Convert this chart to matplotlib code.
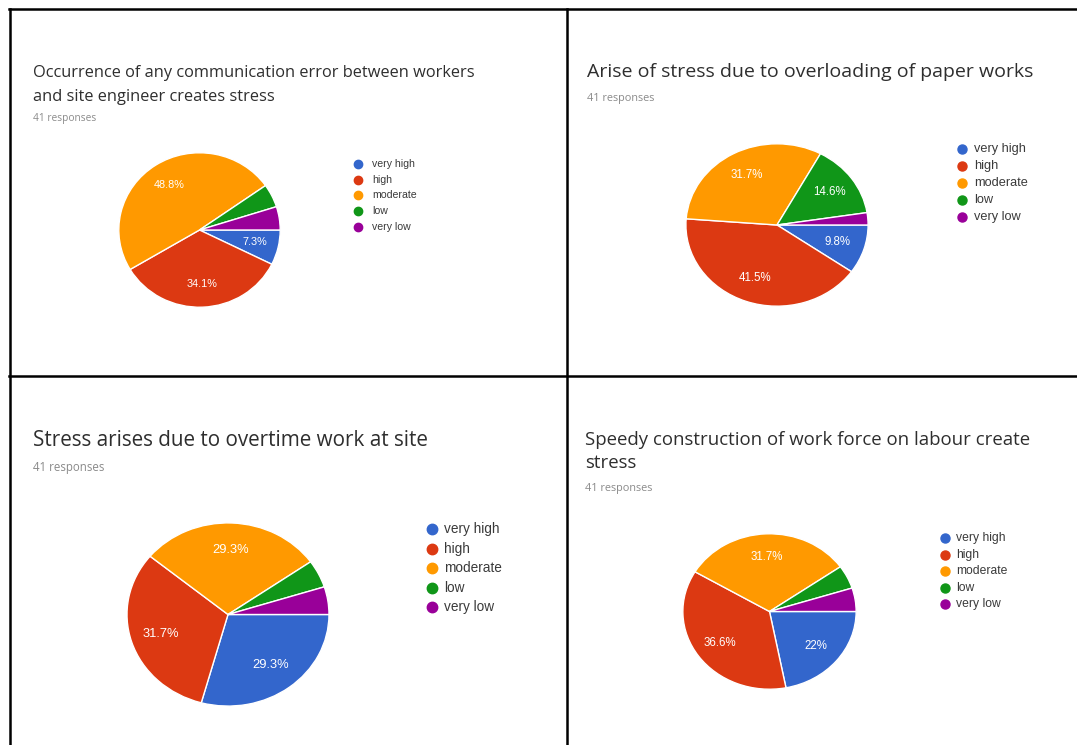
import matplotlib.pyplot as plt
from matplotlib.lines import Line2D

plt.rcParams['font.family'] = ['Open Sans', 'DejaVu Sans']

W, H = 1077, 745

levels = ['very high', 'high', 'moderate', 'low', 'very low']
colors = ['#3366cc', '#dc3912', '#ff9900', '#109618', '#990099']

titles = [
    ['Occurrence of any communication error between workers',
     'and site engineer creates stress'],
    ['Arise of stress due to overloading of paper works'],
    ['Stress arises due to overtime work at site'],
    ['Speedy construction of work force on labour create', 'stress'],
]
responses = 41

counts_comm = [3, 14, 20, 2, 2]
counts_paper = [4, 17, 13, 6, 1]
counts_overtime = [12, 13, 12, 2, 2]
counts_speedy = [9, 15, 13, 2, 2]
all_counts = [counts_comm, counts_paper, counts_overtime, counts_speedy]

# per panel: title/sub positions, pie box (l, t, r, b), legend geometry, font sizes
layout = [
    dict(tx=33, ty=[73, 97], tsize=11.8, ry=118, rsize=7.3,
         box=(118, 152, 281, 308), lx=358, ly=164, lstep=15.7, ldx=14,
         lsize=7.6, msize=6, psize=7.8),
    dict(tx=587, ty=[72], tsize=14.0, ry=98, rsize=7.8,
         box=(685, 143, 869, 307), lx=962, ly=149, lstep=17, ldx=12,
         lsize=9.2, msize=6.5, psize=8.3),
    dict(tx=33, ty=[440], tsize=14.9, ry=468, rsize=8.3,
         box=(126, 522, 330, 707), lx=432, ly=529, lstep=19.5, ldx=12,
         lsize=9.8, msize=7.5, psize=9.3),
    dict(tx=585, ty=[440, 463], tsize=13.4, ry=488, rsize=7.8,
         box=(682, 533, 857, 690), lx=945, ly=538, lstep=16.6, ldx=11,
         lsize=8.7, msize=6.5, psize=8.3),
]


def fx(x):
    return x / W


def fy(y):
    return 1 - y / H


def pct_label(p):
    if p < 5:
        return ''
    s = f'{p:.1f}'.rstrip('0').rstrip('.')
    return s + '%'


fig = plt.figure(figsize=(W / 100, H / 100), dpi=100)

# table grid
grid = dict(color='black', lw=1.8, transform=fig.transFigure)
fig.add_artist(Line2D([fx(9), fx(1077)], [fy(9), fy(9)], **grid))
fig.add_artist(Line2D([fx(9), fx(1077)], [fy(376), fy(376)], **grid))
fig.add_artist(Line2D([fx(10), fx(10)], [fy(9), fy(745)], **grid))
fig.add_artist(Line2D([fx(567), fx(567)], [fy(9), fy(745)], **grid))

for lines, counts, lay in zip(titles, all_counts, layout):
    for text, y in zip(lines, lay['ty']):
        fig.text(fx(lay['tx']), fy(y), text, fontsize=lay['tsize'],
                 color='#2e2e2e', va='center', ha='left')
    fig.text(fx(lay['tx']), fy(lay['ry']), f'{responses} responses',
             fontsize=lay['rsize'], color='#8a8a8a', va='center', ha='left')

    l, t, r, b = lay['box']
    ax = fig.add_axes([fx(l), fy(b), (r - l) / W, (b - t) / H])
    wedges, _, autotexts = ax.pie(counts, colors=colors, startangle=0,
                                  counterclock=False, autopct=pct_label,
                                  pctdistance=0.7,
                                  wedgeprops=dict(edgecolor='white', linewidth=1))
    for at in autotexts:
        at.set_color('white')
        at.set_fontsize(lay['psize'])
        at.set_family(['Liberation Sans', 'DejaVu Sans'])
    ax.set_aspect('auto')
    ax.set_xlim(-1.01, 1.01)
    ax.set_ylim(-1.01, 1.01)

    for i, (name, c) in enumerate(zip(levels, colors)):
        y = lay['ly'] + i * lay['lstep']
        fig.add_artist(Line2D([fx(lay['lx'])], [fy(y)], marker='o', color=c,
                              markersize=lay['msize'], linestyle='none',
                              transform=fig.transFigure))
        fig.text(fx(lay['lx'] + lay['ldx']), fy(y), name,
                 fontsize=lay['lsize'], color='#3a3a3a', va='center', ha='left',
                 family=['Liberation Sans', 'DejaVu Sans'])

fig.savefig('out.png', dpi=100)
